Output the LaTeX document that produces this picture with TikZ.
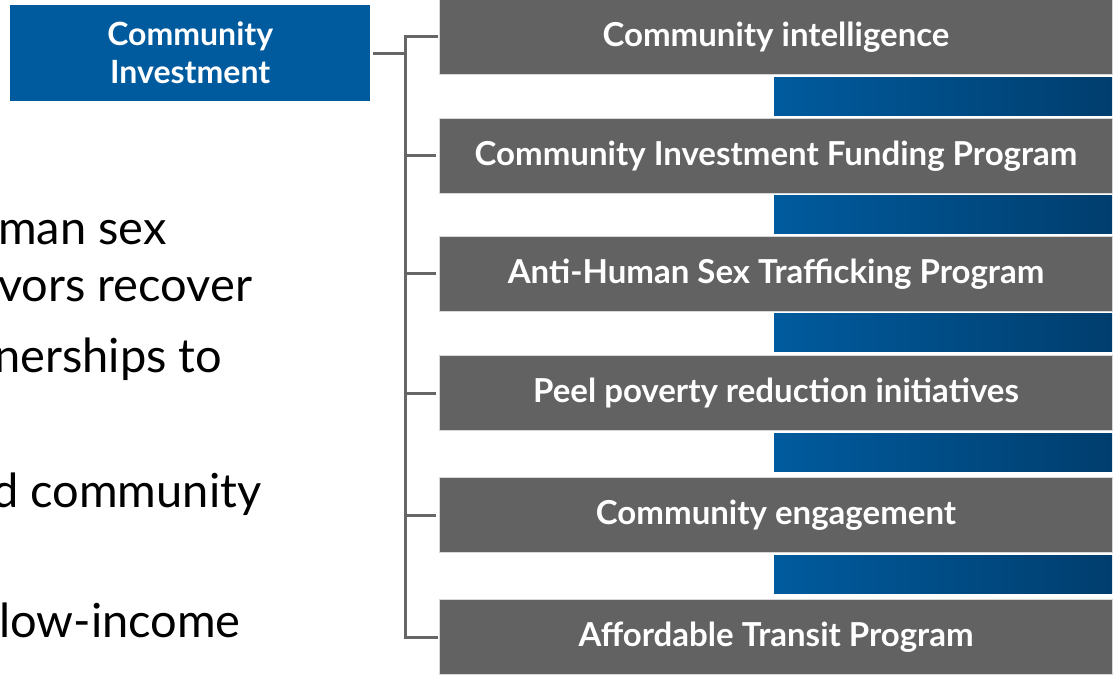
\documentclass[tikz,border=0pt]{standalone}
\usepackage{fontspec}
\setmainfont{Lato}
\definecolor{ciblue}{RGB}{0,91,158}
\definecolor{darkblue}{RGB}{0,62,110}
\definecolor{boxgray}{RGB}{98,98,98}
\definecolor{conngray}{RGB}{102,102,102}
\definecolor{edgegray}{RGB}{215,215,215}
\begin{document}
\begin{tikzpicture}[x=1pt,y=-1pt,
  gbox/.style={fill=boxgray,draw=edgegray,line width=1pt,minimum width=673pt,minimum height=75pt,inner sep=0pt,anchor=north west,text=white,font=\fontsize{33}{38}\selectfont\bfseries},
  gbar/.style={left color=ciblue,right color=darkblue,draw=none,minimum width=338pt,minimum height=38pt,inner sep=0pt,anchor=north west},
  bbox/.style={fill=ciblue,draw=none,minimum width=360pt,minimum height=96pt,inner sep=0pt,anchor=north west,text=white,align=center,font=\fontsize{32}{38}\selectfont\bfseries},
  conn/.style={draw=conngray,line width=3pt},
  lefttext/.style={anchor=base west,inner sep=0pt,font=\fontsize{47}{52}\selectfont}]
\useasboundingbox (0,0) rectangle (1114,676);
\clip (0,0) rectangle (1114,676);
\fill[white] (0,0) rectangle (1114,676);
% left clipped text
\node[lefttext] (t1) at (-2,245) {man sex};
\node[lefttext] (t2) at (-2,302) {vors recover};
\node[lefttext] (t3) at (-6,372) {nerships to};
\node[lefttext] (t4) at (-8,507) {d community};
\node[lefttext] (t5) at (-1,637) {low-income};
% main box
\node[bbox] (ci) at (10,5) {Community\\Investment};
% gradient bars
\node[gbar] (b1) at (774,77) {};
\node[gbar] (b2) at (774,195) {};
\node[gbar] (b3) at (774,313) {};
\node[gbar] (b4) at (774,433) {};
\node[gbar] (b5) at (774,555) {};
% gray boxes
\node[gbox] (g1) at (439,-1) {Community intelligence};
\node[gbox] (g2) at (439,118) {Community Investment Funding Program};
\node[gbox] (g3) at (439,236) {Anti-Human Sex Trafficking Program};
\node[gbox] (g4) at (439,355) {Peel poverty reduction initiatives};
\node[gbox] (g5) at (439,477) {Community engagement};
\node[gbox] (g6) at (439,599) {Affordable Transit Program};
% connectors
\coordinate (tx) at (405,0);
\draw[conn] (ci.east) ++(3,0) -- (ci.east -| tx);
\draw[conn,line cap=rect] (g1.west) ++(-3,0) -- (g1.west -| tx) -- (g6.west -| tx) -- ([xshift=-3pt]g6.west);
\foreach \g in {g2,g3,g4,g5}{
  \draw[conn] (\g.west -| tx) -- ([xshift=-3pt]\g.west);
}
\end{tikzpicture}
\end{document}
